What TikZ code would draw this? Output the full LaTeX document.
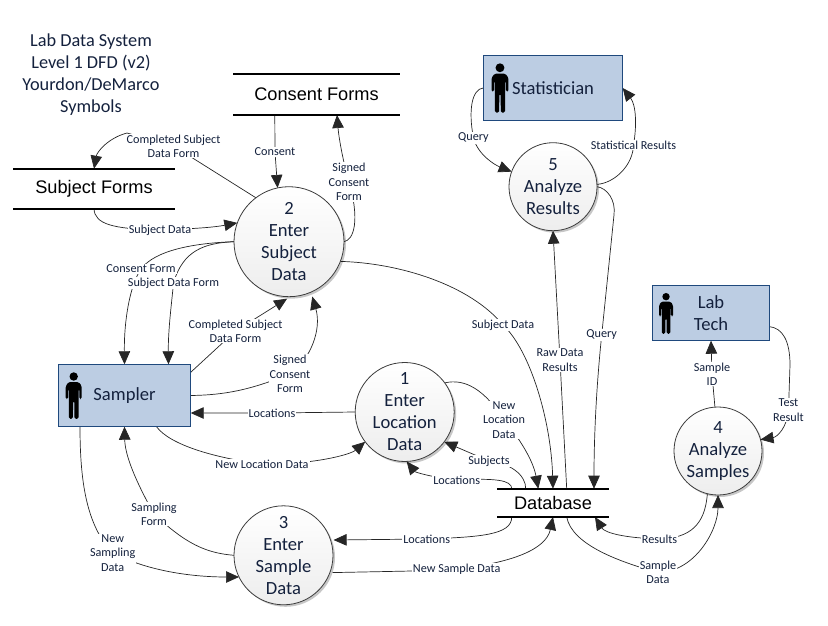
\documentclass[tikz,border=0pt]{standalone}
\usepackage{fontspec}
\setmainfont{Carlito}
\newfontfamily\storefont{Liberation Sans}
\usetikzlibrary{arrows.meta,shadows}
\pgfdeclarelayer{lines}
\pgfsetlayers{lines,main}
\definecolor{inkc}{HTML}{14213D}
\definecolor{boxfill}{HTML}{BCCDE3}
\definecolor{boxline}{HTML}{1F497D}
\definecolor{lineclr}{HTML}{262626}
\tikzset{
  proc/.style={circle,draw=lineclr!90,line width=0.8pt,inner sep=-15pt,outer sep=0pt,
    top color=white,bottom color=black!7,text=inkc,align=center,
    font=\fontsize{18.6}{22}\selectfont,
    drop shadow={shadow xshift=2pt,shadow yshift=-2pt,opacity=.22,fill=black}},
  ext/.style={rectangle,draw=boxline,line width=1pt,fill=boxfill,inner sep=0pt,outer sep=0pt,
    text=inkc,align=center,font=\fontsize{18.6}{22}\selectfont},
  store/.style={rectangle,inner sep=0pt,outer sep=0pt,text=black,
    font=\storefont\fontsize{18.2}{22}\selectfont},
  storeline/.style={line width=2pt,black},
  lbl/.style={fill=white,inner sep=1pt,text=inkc,align=center,
    font=\fontsize{12.2}{14.3}\selectfont},
  flow/.style={line width=0.7pt,lineclr,-{Triangle[length=13pt,width=11.5pt]}},
  person/.pic={
    \fill[black] (8,4.5) circle[radius=4.2];
    \fill[black,rounded corners=1.5pt] (0,27) -- (0,14) -- (3,10) -- (13,10) -- (16,14) -- (16,27)
      -- (13.6,27) -- (13.6,17) -- (12.8,17) -- (12.8,46.8) -- (8.8,46.8) -- (8.6,29) -- (7.4,29)
      -- (7.2,46.8) -- (3.2,46.8) -- (3.2,17) -- (2.4,17) -- (2.4,27) -- cycle;
  }
}
\begin{document}
\begin{tikzpicture}[x=1pt,y=-1pt]
\useasboundingbox (0,0) rectangle (828,626);

\node[text=inkc,align=center,font=\fontsize{18.3}{22}\selectfont] (title) at (91,74.5)
  {Lab Data System\\Level 1 DFD (v2)\\Yourdon/DeMarco\\Symbols};

% processes
\node[proc,minimum size=110pt] (c2) at (289,241.7) {2\\Enter\\Subject\\Data};
\node[proc,minimum size=99pt] (c1) at (404.7,412) {1\\Enter\\Location\\Data};
\node[proc,minimum size=99pt] (c3) at (283.5,555.3) {3\\Enter\\Sample\\Data};
\node[proc,minimum size=88pt] (c4) at (718,451) {4\\Analyze\\Samples};
\node[proc,minimum size=88pt] (c5) at (553,186.7) {5\\Analyze\\Results};

% external entities
\node[ext,minimum width=132.4pt,minimum height=62.4pt] (sam) at (124.5,395.5) {Sampler};
\node[ext,minimum width=139.4pt,minimum height=65.4pt] (stat) at (553,88) {Statistician};
\node[ext,minimum width=117.4pt,minimum height=55.4pt] (lab) at (711,313) {Lab\\Tech};
\pic at (65.7,372) {person};
\pic[scale=1.06] at (491.5,63) {person};
\pic[scale=.88] at (659,292.7) {person};

% data stores
\node[store,minimum width=162pt,minimum height=40.3pt] (sf) at (94,188.85) {Subject Forms};
\node[store,minimum width=167pt,minimum height=41pt] (cf) at (316.5,94.5) {Consent Forms};
\node[store,minimum width=112pt,minimum height=28.3pt] (db) at (553,502.85) {Database};
\foreach \s in {sf,cf,db}{
  \draw[storeline] (\s.north west) -- (\s.north east);
  \draw[storeline] (\s.south west) -- (\s.south east);
}

% labels
\node[lbl] (l1) at (173.5,146) {Completed Subject\\Data Form};
\node[lbl] (l2) at (160,230) {Subject Data};
\node[lbl] (l3) at (141,269) {Consent Form};
\node[lbl] (l4) at (173.5,283) {Subject Data Form};
\node[lbl] (l5) at (235.5,331) {Completed Subject\\Data Form};
\node[lbl] (l6) at (290,374) {Signed\\Consent\\Form};
\node[lbl] (l7) at (349,182) {Signed\\Consent\\Form};
\node[lbl] (l8) at (275,152) {Consent};
\node[lbl] (l9) at (503,325) {Subject Data};
\node[lbl] (l10) at (560,360) {Raw Data\\Results};
\node[lbl] (l11) at (601.7,335) {Query};
\node[lbl] (l12) at (633.5,145) {Statistical Results};
\node[lbl] (l13) at (473.5,138) {Query};
\node[lbl] (l14) at (712,374) {Sample\\ID};
\node[lbl] (l15) at (788.5,410) {Test\\Result};
\node[lbl] (l16) at (272,413) {Locations};
\node[lbl] (l17) at (262,464) {New Location Data};
\node[lbl] (l18) at (112.7,553) {New\\Sampling\\Data};
\node[lbl] (l19) at (154,514) {Sampling\\Form};
\node[lbl] (l20) at (426.7,539) {Locations};
\node[lbl] (l21) at (456.7,569) {New Sample Data};
\node[lbl] (l22) at (658,572.5) {Sample\\Data};
\node[lbl] (l23) at (659.5,539) {Results};
\node[lbl] (l24) at (504,420) {New\\Location\\Data};
\node[lbl] (l25) at (489,461) {Subjects};
\node[lbl] (l26) at (456.7,480) {Locations};

% connectors
\begin{pgfonlayer}{lines}
\draw[flow] (c2.127) -- (l1.center) -- (127,133) .. controls (108,138) and (97,152) .. (sf.north);
\draw[flow] (sf.south) .. controls (95,224) and (112,229) .. (l2.center) .. controls (185,229) and (210,228) .. (c2.160);
\draw[flow] (c2.west) .. controls (195,243) and (155,250) .. (l3.center) .. controls (130,285) and (124,320) .. (sam.north);
\draw[flow] (c2.west) .. controls (205,243) and (183,250) .. (l4.center) .. controls (172,300) and (168,330) .. ([xshift=44pt]sam.north);
\draw[flow] ([yshift=-8pt]sam.north east) -- (l5.center) -- ([yshift=-2pt]c2.268);
\draw[flow] (sam.east) .. controls (225,395) and (250,390) .. (l6.center) .. controls (310,360) and (322,330) .. ([yshift=-5pt]c2.295);
\draw[flow] (c2.east) .. controls (354,240) and (360,220) .. (l7.center) .. controls (344,165) and (339,140) .. ([xshift=20.5pt]cf.south);
\draw[flow] ([xshift=-41.7pt]cf.south) -- (l8.center) -- (c2.102.5);
\draw[flow] (c2.339) .. controls (400,263) and (470,285) .. (l9.center) .. controls (530,350) and (551,420) .. (db.north);
\draw[flow] ([xshift=13.7pt]db.north) -- (l10.center) -- (c5.south);
\draw[flow] (c5.east) .. controls (607,188) and (616,200) .. (614,215) -- (l11.center) .. controls (596,390) and (594,440) .. ([xshift=41pt]db.north);
\draw[flow] (c5.3) .. controls (615,183) and (633,165) .. (l12.center) .. controls (637,125) and (636,105) .. (stat.east);
\draw[flow] (stat.west) .. controls (472,89) and (468,110) .. (l13.center) .. controls (478,155) and (495,165) .. (c5.160);
\draw[flow] (c4.94) -- (l14.center) -- (lab.south);
\draw[flow] ([yshift=14pt]lab.south east) .. controls (782,328) and (790,340) .. (790,365) -- (l15.center) .. controls (787,428) and (777,437) .. (c4.15);
\draw[flow] (c1.west) -- (l16.center) -- ([yshift=13.7pt]sam.south east);
\draw[flow] ([xshift=32pt]sam.south) .. controls (170,445) and (215,458) .. (l17.center) .. controls (310,465) and (350,455) .. (c1.217);
\draw[flow] ([xshift=-44.5pt]sam.south) .. controls (80,480) and (86,525) .. (l18.center) .. controls (150,572) and (195,577) .. (c3.206);
\draw[flow] (c3.west) .. controls (205,553) and (185,543) .. (l19.center) .. controls (135,480) and (125,455) .. (sam.south);
\draw[flow] ([xshift=-41.3pt]db.south) .. controls (512,535) and (480,537) .. (l20.center) -- ([xshift=3pt]c3.18);
\draw[flow] ([xshift=2pt,yshift=-2pt]c3.342) -- (412,571) -- (l21.center) .. controls (510,563) and (546,550) .. (db.south);
\draw[flow] ([xshift=13.7pt]db.south) .. controls (572,545) and (620,562) .. (l22.center) .. controls (695,572) and (718,530) .. (c4.south);
\draw[flow] (c4.256) .. controls (705,525) and (690,538) .. (l23.center) .. controls (625,538) and (605,533) .. ([xshift=42pt]db.south);
\draw[flow] (c1.36) .. controls (465,378) and (485,390) .. (l24.center) .. controls (525,445) and (534,465) .. ([xshift=-14.7pt]db.north);
\draw[flow] ([xshift=-27.3pt]db.north) .. controls (526,475) and (510,463) .. (l25.center) -- (c1.323);
\draw[flow] ([xshift=-41.3pt]db.north) .. controls (512,480) and (495,478) .. (l26.center) .. controls (430,477) and (415,472) .. ([xshift=2pt]c1.south);
\end{pgfonlayer}
\end{tikzpicture}
\end{document}
